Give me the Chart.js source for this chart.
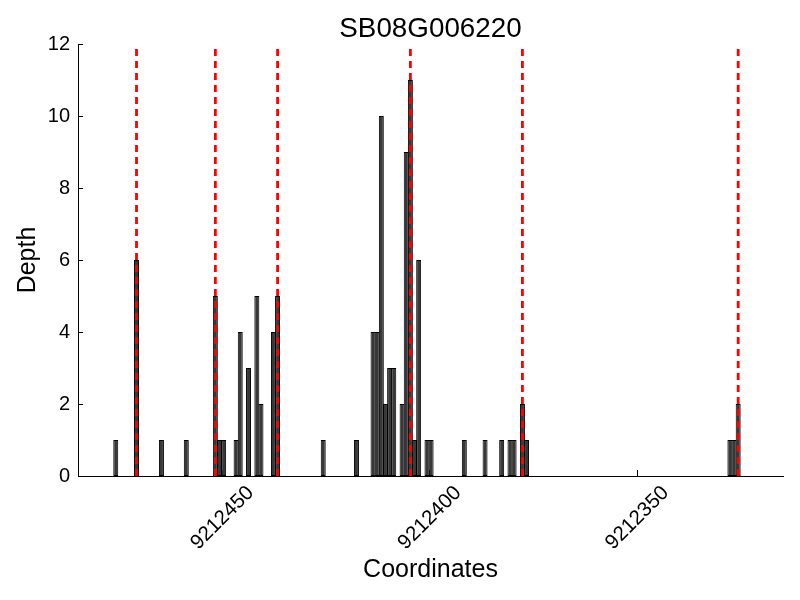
<!DOCTYPE html>
<html>
<head>
<meta charset="utf-8">
<title>SB08G006220</title>
<script src="https://cdn.jsdelivr.net/npm/chart.js@4.4.1/dist/chart.umd.min.js"></script>
<style>
    html, body { margin: 0; padding: 0; background: #ffffff; }
    #wrap { width: 800px; height: 600px; }
</style>
</head>
<body>
<div id="wrap"><canvas id="depthChart"></canvas></div>
<script>
// Read depth per base position (axis runs high -> low, left to right)
const positions = [
    9212475, 9212470, 9212464, 9212458, 9212451, 9212450, 9212449, 9212446, 9212445, 9212443,
    9212441, 9212440, 9212437, 9212436,
    9212425, 9212417, 9212413, 9212412, 9212411, 9212410, 9212409, 9212408, 9212406, 9212405,
    9212404, 9212403, 9212402, 9212400, 9212399, 9212391, 9212386, 9212382, 9212380, 9212379,
    9212377, 9212376,
    9212327, 9212326, 9212325
];
const depths = [
    1, 6, 1, 1, 5, 1, 1, 1, 4, 3,
    5, 2, 4, 5,
    1, 1, 4, 4, 10, 2, 3, 3, 2, 9,
    11, 1, 6, 1, 1, 1, 1, 1, 1, 1,
    2, 1,
    1, 1, 2
];
// red dashed markers
const boundaries = [9212470, 9212451, 9212436, 9212404, 9212377, 9212325];
const xTicks = [9212450, 9212400, 9212350];
const yTicks = [0, 2, 4, 6, 8, 10, 12];
const xMin = 9212314.7;
const xMax = 9212484.6;
const yMax = 12;

Chart.defaults.font.family = "'Liberation Sans', Arial, sans-serif";
Chart.defaults.color = '#000000';

// bars cover [pos, pos + 1]
const barData = positions.map((p, i) => ({ x: p + 0.5, y: depths[i] }));

const lineSets = boundaries.map(b => ({
    type: 'line',
    data: [{ x: b + 0.5, y: 0 }, { x: b + 0.5, y: yMax }],
    borderColor: '#ff0000',
    borderWidth: 2.8,
    borderDash: [7, 5],
    pointRadius: 0,
    fill: false,
    order: 1
}));

// matplotlib-style ticks pointing into the plot
const inwardTicks = {
    id: 'inwardTicks',
    beforeDatasetsDraw(chart) {
        const { ctx, chartArea, scales: { x, y } } = chart;
        ctx.save();
        ctx.strokeStyle = '#000000';
        ctx.lineWidth = 1;
        ctx.beginPath();
        xTicks.forEach(v => {
            const px = Math.round(x.getPixelForValue(v)) + 0.5;
            ctx.moveTo(px, chartArea.bottom);
            ctx.lineTo(px, chartArea.bottom - 6);
        });
        yTicks.forEach(v => {
            const py = Math.round(y.getPixelForValue(v)) + 0.5;
            ctx.moveTo(chartArea.left, py);
            ctx.lineTo(chartArea.left + 5, py);
        });
        ctx.stroke();
        ctx.restore();
    }
};

const ctx = document.getElementById('depthChart').getContext('2d');
const depthChart = new Chart(ctx, {
    type: 'bar',
    data: {
        datasets: [
            ...lineSets,
            {
                type: 'bar',
                data: barData,
                backgroundColor: '#383838',
                borderColor: '#000000',
                borderWidth: 1,
                borderSkipped: false,
                barPercentage: 1.2,
                categoryPercentage: 1,
                order: 2
            }
        ]
    },
    options: {
        responsive: true,
        maintainAspectRatio: false,
        animation: false,
        layout: {
            padding: { left: 0, right: 17, top: 0, bottom: 0 }
        },
        plugins: {
            legend: { display: false },
            tooltip: { enabled: false }
        },
        scales: {
            x: {
                type: 'linear',
                reverse: true,
                offset: false,
                min: xMin,
                max: xMax,
                grid: { display: false, drawTicks: false },
                border: { display: true, color: '#000000', width: 1 },
                afterBuildTicks: scale => {
                    scale.ticks = xTicks.map(v => ({ value: v }));
                },
                afterFit: scale => {
                    scale.height = 124;
                    scale.paddingLeft = 0;
                    scale.paddingRight = 0;
                },
                ticks: {
                    autoSkip: false,
                    minRotation: 45,
                    maxRotation: 45,
                    labelOffset: 29,
                    padding: 5,
                    font: { size: 20.5 },
                    color: '#000000',
                    callback: v => String(v)
                },
                title: {
                    display: true,
                    text: 'Coordinates',
                    font: { size: 25 },
                    padding: { top: 0, bottom: 15 },
                    color: '#000000'
                }
            },
            // empty top axis, only carries the title centred over the plot
            top: {
                type: 'linear',
                position: 'top',
                grid: { display: false, drawTicks: false },
                border: { display: false },
                ticks: { display: false },
                afterFit: scale => {
                    scale.height = 44;
                    scale.paddingLeft = 0;
                    scale.paddingRight = 0;
                },
                title: {
                    display: true,
                    text: 'SB08G006220',
                    font: { size: 27.8, lineHeight: 1 },
                    padding: { top: 15.6, bottom: 0 },
                    color: '#000000'
                }
            },
            y: {
                min: 0,
                max: yMax,
                grid: { display: false, drawTicks: false },
                border: { display: true, color: '#000000', width: 1 },
                afterBuildTicks: scale => {
                    scale.ticks = yTicks.map(v => ({ value: v }));
                },
                afterFit: scale => {
                    scale.width = 78;
                    scale.paddingTop = 0;
                    scale.paddingBottom = 0;
                },
                ticks: {
                    padding: 8,
                    font: { size: 20 },
                    color: '#000000'
                },
                title: {
                    display: true,
                    text: 'Depth',
                    font: { size: 25 },
                    padding: { top: 13, bottom: 0 },
                    color: '#000000'
                }
            }
        }
    },
    plugins: [inwardTicks]
});
</script>
</body>
</html>
